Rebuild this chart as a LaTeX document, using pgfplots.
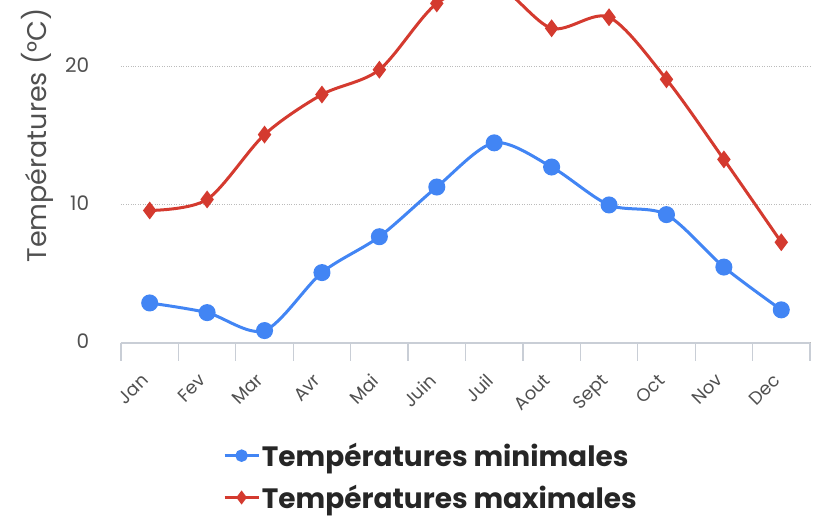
\documentclass[border=0pt]{standalone}
\usepackage{fontspec}
\setmainfont{Poppins}
\usepackage{pgfplots}
\pgfplotsset{compat=1.18}
\definecolor{cblue}{HTML}{4285F4}
\definecolor{cred}{HTML}{D43A2F}
\definecolor{axisgray}{HTML}{C9CED6}
\definecolor{txtgray}{HTML}{505050}
\definecolor{gridgray}{HTML}{BBBBBB}
\begin{document}
\begin{tikzpicture}
\useasboundingbox (0,0) rectangle (820pt,518pt);
\begin{axis}[
  at={(121pt,175pt)}, anchor=south west,
  scale only axis, width=689pt, height=343pt,
  xmin=-0.5, xmax=11.5, ymin=0, ymax=24.85,
  axis lines*=left,
  x axis line style={axisgray, line width=1.2pt, -},
  y axis line style={draw=none},
  xtick={0,...,11},
  xticklabels={Jan,Fev,Mar,Avr,Mai,Juin,Juil,Aout,Sept,Oct,Nov,Dec},
  major x tick style={draw=none},
  minor xtick={-0.5,0.5,...,11.5},
  minor x tick style={axisgray, line width=1.2pt},
  minor tick length=18pt,
  tick align=outside,
  ytick={0,10,20},
  ytick style={draw=none},
  ymajorgrids,
  grid style={gridgray, dotted, line width=1pt},
  /pgf/number format/assume math mode=true,
  xticklabel style={rotate=45, anchor=north east, font=\fontsize{18}{18}\selectfont, text=txtgray, xshift=-21pt, yshift=-8pt},
  yticklabel style={font=\fontsize{20}{20}\selectfont, text=txtgray, xshift=-24pt, yshift=2pt},
  ylabel={Températures (°C)},
  every axis y label/.style={at={(axis description cs:-0.121,0.605)}, rotate=90, anchor=center, font=\fontsize{27}{27}\selectfont, text=txtgray},
  legend style={at={(axis description cs:0.45,-0.28)}, anchor=north, draw=none, fill=none,
    font=\bfseries\fontsize{28}{31}\selectfont, text=black!85, row sep=13pt,
    /tikz/every even column/.append style={column sep=3pt}},
  legend cell align=left,
  legend image code/.code={\draw[#1, line width=2.5pt, mark size=5pt, mark repeat=2, mark phase=2] plot coordinates {(0pt,0pt) (17pt,0pt) (34pt,0pt)};},
]
\addplot[cblue, line width=3pt, smooth, mark=*, mark size=7pt, mark options={solid}]
  coordinates {(0,2.9) (1,2.2) (2,0.9) (3,5.1) (4,7.7) (5,11.3) (6,14.5) (7,12.75) (8,10.0) (9,9.3) (10,5.5) (11,2.4)};
\addlegendentry{Températures minimales}
\addplot[cred, line width=3pt, smooth, mark=diamond*, mark size=6.5pt, mark options={solid}]
  coordinates {(0,9.6) (1,10.4) (2,15.1) (3,18.0) (4,19.8) (5,24.6) (6,26.0) (7,22.8) (8,23.6) (9,19.1) (10,13.3) (11,7.3)};
\addlegendentry{Températures maximales}
\end{axis}
\end{tikzpicture}
\end{document}
